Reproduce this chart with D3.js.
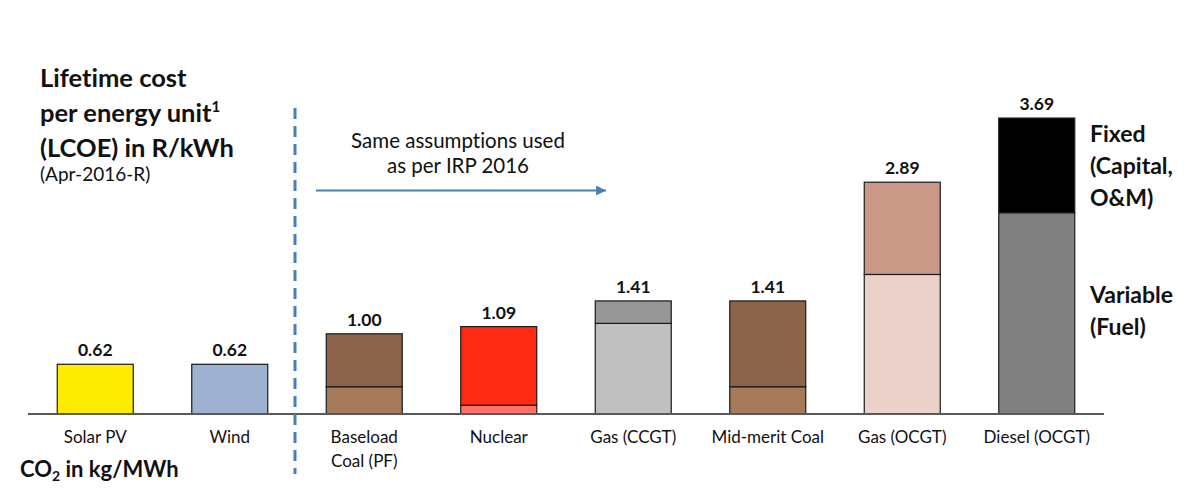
<!DOCTYPE html>
<html>
<head>
<meta charset="utf-8">
<script src="https://cdn.jsdelivr.net/npm/d3@7"></script>
<style>
	body { margin: 0; background: #fff; }
	svg text { font-family: Lato, "Open Sans", sans-serif; fill: #111; font-variant-ligatures: none; }
</style>
</head>
<body>
<div id="chart"></div>
<script>
// LCOE per technology, R/kWh (Apr-2016)
var categories = ["Solar PV", "Wind", "Baseload|Coal (PF)", "Nuclear", "Gas (CCGT)", "Mid-merit Coal", "Gas (OCGT)", "Diesel (OCGT)"];
var variableCost = [0, 0, 0.34, 0.11, 1.13, 0.34, 1.74, 2.51];
var fixedCost = [0.62, 0.62, 0.66, 0.98, 0.28, 1.07, 1.15, 1.18];
var totalLabels = ["0.62", "0.62", "1.00", "1.09", "1.41", "1.41", "2.89", "3.69"];
var variableColors = ["#ffed00", "#9eb1d0", "#a57a5a", "#ff7166", "#c0c0c0", "#a57a5a", "#ead2ca", "#808080"];
var fixedColors = ["#ffed00", "#9eb1d0", "#8b644a", "#ff2a12", "#969696", "#8b644a", "#c99886", "#000000"];

var width = 1200, height = 490;
var baseY = 414;

var svg = d3.select("#chart").append("svg")
	.attr("width", width)
	.attr("height", height);

var x = d3.scaleBand()
	.domain(categories)
	.range([28, 1104])
	.paddingInner(0.435)
	.paddingOuter(0.2175);

var y = d3.scaleLinear()
	.domain([0, 4])
	.range([baseY, baseY - 320.8]);

var rows = categories.map(function(c, i) {
	return {cat: c, variable: variableCost[i], fixed: fixedCost[i], label: totalLabels[i], vc: variableColors[i], fc: fixedColors[i]};
});

var stack = d3.stack().keys(["variable", "fixed"]);
var series = stack(rows);

// bars
svg.append("g").selectAll("g")
		.data(series)
	.enter().append("g")
	.selectAll("rect")
		.data(function(s) { return s.map(function(d) { d.key = s.key; return d; }); })
	.enter().append("rect")
		.filter(function(d) { return d[1] - d[0] > 0; })
		.attr("x", function(d) { return x(d.data.cat); })
		.attr("y", function(d) { return y(d[1]); })
		.attr("width", x.bandwidth())
		.attr("height", function(d) { return y(d[0]) - y(d[1]); })
		.style("fill", function(d) { return d.key == "variable" ? d.data.vc : d.data.fc; })
		.style("stroke", "#1a1a1a")
		.style("stroke-width", 1.2);

// baseline
svg.append("line")
	.attr("x1", x.range()[0]).attr("x2", x.range()[1])
	.attr("y1", baseY).attr("y2", baseY)
	.style("stroke", "#595959")
	.style("stroke-width", 2);

// totals on top
svg.append("g").selectAll("text")
		.data(rows)
	.enter().append("text")
		.attr("x", function(d) { return x(d.cat) + x.bandwidth() / 2; })
		.attr("y", function(d) { return y(d.variable + d.fixed) - 8; })
		.attr("text-anchor", "middle")
		.style("font-size", "17.5px")
		.style("font-weight", "bold")
		.text(function(d) { return d.label; });

// category labels
var catText = svg.append("g").selectAll("text")
		.data(categories)
	.enter().append("text")
		.attr("x", function(d) { return x(d) + x.bandwidth() / 2; })
		.attr("y", 443)
		.attr("text-anchor", "middle")
		.style("font-size", "17px");
catText.selectAll("tspan")
		.data(function(d) { return d.split("|").map(function(t) { return {t: t, cat: d}; }); })
	.enter().append("tspan")
		.attr("x", function(d) { return x(d.cat) + x.bandwidth() / 2; })
		.attr("dy", function(d, i) { return i ? 24 : 0; })
		.text(function(d) { return d.t; });

// title
var title = svg.append("text")
	.attr("x", 40).attr("y", 87)
	.style("font-size", "25.5px")
	.style("font-weight", "bold");
title.append("tspan").attr("x", 40).text("Lifetime cost");
title.append("tspan").attr("x", 40).attr("dy", 35).text("per energy unit");
title.append("tspan").attr("dy", -10).style("font-size", "15px").text("1");
title.append("tspan").attr("x", 40).attr("dy", 45).text("(LCOE) in R/kWh");
svg.append("text")
	.attr("x", 40).attr("y", 181)
	.style("font-size", "19px")
	.text("(Apr-2016-R)");

// CO2 label
var co2 = svg.append("text")
	.attr("x", 20).attr("y", 477)
	.style("font-size", "22px")
	.style("font-weight", "bold");
co2.append("tspan").text("CO");
co2.append("tspan").attr("dy", 4).style("font-size", "14px").text("2");
co2.append("tspan").attr("dy", -4).text(" in kg/MWh");

// dashed divider
svg.append("line")
	.attr("x1", 295).attr("x2", 295)
	.attr("y1", 108).attr("y2", 474)
	.style("stroke", "#4a7ebb")
	.style("stroke-width", 3)
	.style("stroke-dasharray", "11,7");

// arrow + note
svg.append("defs").append("marker")
	.attr("id", "arrow")
	.attr("viewBox", "0 0 10 10")
	.attr("refX", 10).attr("refY", 5)
	.attr("markerWidth", 5.5).attr("markerHeight", 4.5)
	.attr("markerUnits", "strokeWidth")
	.attr("orient", "auto")
	.append("path")
		.attr("d", "M0,0L10,5L0,10Z")
		.style("fill", "#4a7ebb");
svg.append("line")
	.attr("x1", 316).attr("x2", 606)
	.attr("y1", 190.5).attr("y2", 190.5)
	.style("stroke", "#4a7ebb")
	.style("stroke-width", 2.2)
	.attr("marker-end", "url(#arrow)");
svg.append("text")
	.attr("x", 458).attr("y", 148)
	.attr("text-anchor", "middle")
	.style("font-size", "20.5px")
	.text("Same assumptions used");
svg.append("text")
	.attr("x", 458).attr("y", 173)
	.attr("text-anchor", "middle")
	.style("font-size", "20.5px")
	.text("as per IRP 2016");

// legend labels on the right
var legendLines = [["Fixed", 142], ["(Capital,", 174], ["O&M)", 206], ["Variable", 303], ["(Fuel)", 335]];
svg.append("g").selectAll("text")
		.data(legendLines)
	.enter().append("text")
		.attr("x", 1090)
		.attr("y", function(d) { return d[1]; })
		.style("font-size", "23px")
		.style("font-weight", "bold")
		.text(function(d) { return d[0]; });
</script>
</body>
</html>
